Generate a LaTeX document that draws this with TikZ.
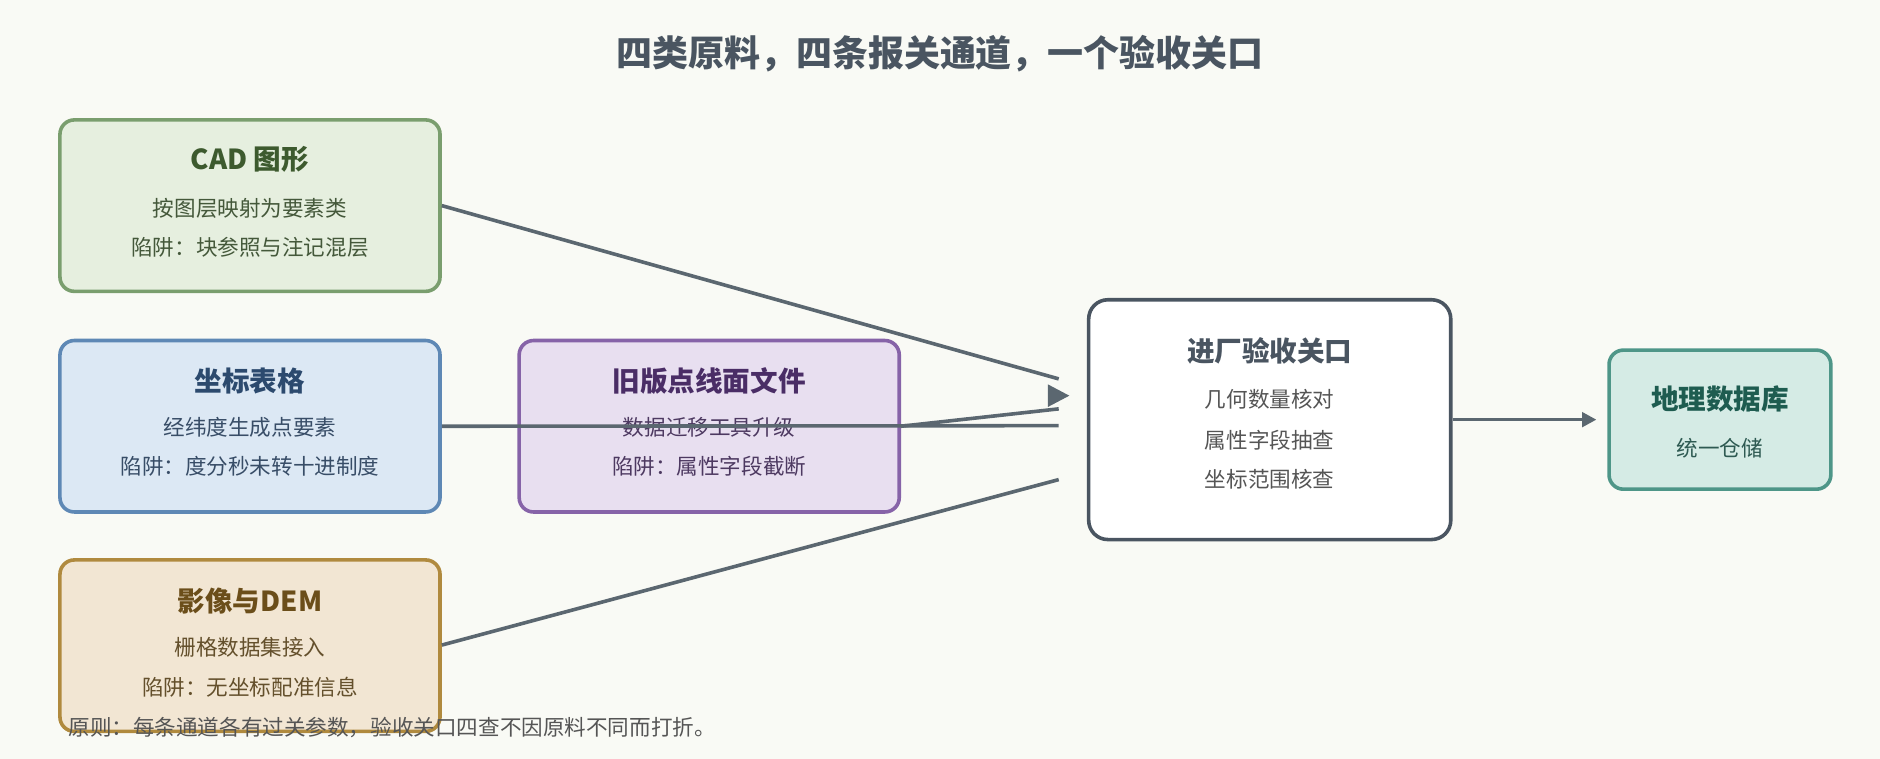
\documentclass[tikz,border=0pt]{standalone}
\usepackage{fontspec}
\setmainfont{Noto Sans CJK SC}
\usetikzlibrary{arrows.meta,positioning}
\definecolor{bgc}{HTML}{F9FAF5}
\definecolor{linec}{HTML}{5B6770}
\definecolor{cadfill}{HTML}{E6EFDF}\definecolor{cadline}{HTML}{7A9E6E}\definecolor{cadtext}{HTML}{3D5A2E}
\definecolor{xyfill}{HTML}{DCE8F4}\definecolor{xyline}{HTML}{5E88B5}\definecolor{xytext}{HTML}{2C4A6E}
\definecolor{demfill}{HTML}{F2E6D3}\definecolor{demline}{HTML}{B08A3E}\definecolor{demtext}{HTML}{6B4E1A}
\definecolor{oldfill}{HTML}{E8DFF0}\definecolor{oldline}{HTML}{8663A8}\definecolor{oldtext}{HTML}{4A2D66}
\definecolor{gateline}{HTML}{4A5561}
\definecolor{dbfill}{HTML}{D5EBE5}\definecolor{dbline}{HTML}{4E9688}\definecolor{dbtext}{HTML}{1E5C50}
\definecolor{subc}{HTML}{555555}

\begin{document}
\begin{tikzpicture}[x=0.5pt,y=-0.5pt,
		boxStyle/.style={draw, line width=1.5pt, rounded corners=6pt, inner sep=0pt},
		srcBox/.style={boxStyle, minimum width=158.5pt, minimum height=71.5pt},
		headStyle/.style={font=\fontsize{11.5}{13}\selectfont\bfseries},
		subStyle/.style={font=\fontsize{9}{11}\selectfont, text=subc},
		feedStyle/.style={draw=linec, line width=1.5pt},]
	
	\fill[bgc] (0,0) rectangle (1568,633);
	\useasboundingbox (0,0) rectangle (1568,633);
	
	\node[font=\fontsize{15}{18}\selectfont\bfseries, text=gateline] (title) at (784,45) {四类原料，四条报关通道，一个验收关口};
	
	% sources
	\node[srcBox, fill=cadfill, draw=cadline] (cad) at (208.5,171.5) {};
	\node[srcBox, fill=xyfill, draw=xyline] (xy) at (208.5,355.5) {};
	\node[srcBox, fill=demfill, draw=demline] (dem) at (208.5,538.5) {};
	\node[srcBox, fill=oldfill, draw=oldline] (old) at (591.5,355.5) {};
	
	\node[headStyle, text=cadtext] (cadT) at (208.5,133) {CAD 图形};
	\node[subStyle, text=cadtext!70!subc] (cadA) at (208.5,174) {按图层映射为要素类};
	\node[subStyle, text=cadtext!70!subc] (cadB) at (208.5,206) {陷阱：块参照与注记混层};
	
	\node[headStyle, text=xytext] (xyT) at (208.5,318) {坐标表格};
	\node[subStyle, text=xytext!70!subc] (xyA) at (208.5,356) {经纬度生成点要素};
	\node[subStyle, text=xytext!70!subc] (xyB) at (208.5,389) {陷阱：度分秒未转十进制度};
	
	\node[headStyle, text=demtext] (demT) at (208.5,501) {影像与DEM};
	\node[subStyle, text=demtext!70!subc] (demA) at (208.5,540) {栅格数据集接入};
	\node[subStyle, text=demtext!70!subc] (demB) at (208.5,573) {陷阱：无坐标配准信息};
	
	\node[headStyle, text=oldtext] (oldT) at (591.5,318) {旧版点线面文件};
	\node[subStyle, text=oldtext!70!subc] (oldA) at (591.5,356) {数据迁移工具升级};
	\node[subStyle, text=oldtext!70!subc] (oldB) at (591.5,389) {陷阱：属性字段截断};
	
	% gate and database
	\node[boxStyle, fill=white, draw=gateline, minimum width=151pt, minimum height=100pt, rounded corners=8pt] (gate) at (1059,350) {};
	\node[headStyle, text=gateline] (gateT) at (1059,293) {进厂验收关口};
	\node[subStyle] (gateA) at (1059,333) {几何数量核对};
	\node[subStyle] (gateB) at (1059,367) {属性字段抽查};
	\node[subStyle] (gateC) at (1059,400) {坐标范围核查};
	
	\node[boxStyle, fill=dbfill, draw=dbline, minimum width=92.5pt, minimum height=58pt] (db) at (1434.5,350) {};
	\node[headStyle, text=dbtext] (dbT) at (1434.5,333) {地理数据库};
	\node[subStyle, text=dbtext!70!subc] (dbA) at (1434.5,374) {统一仓储};
	
	\coordinate (inCad) at (883,316);
	\coordinate (inXy) at (883,355);
	\coordinate (inOld) at (883,341);
	\coordinate (inDem) at (883,400);
	\coordinate (tipBase) at (883,330);
	
	\draw[feedStyle] (cad.east) -- (inCad);
	\draw[feedStyle] (xy.east) -- (inXy);
	\draw[feedStyle] (old.east) -- (inOld);
	\draw[feedStyle] (dem.east|-0,538) -- (inDem);
	\draw[feedStyle, -{Triangle[length=9pt,width=9pt]}] (tipBase) -- ++(9,0);
	\draw[feedStyle, shorten >=4.5pt, -{Triangle[length=6pt,width=6pt]}] (gate.east) -- (db.west);
	
	\node[subStyle, anchor=west] (note) at (50,607) {原则：每条通道各有过关参数，验收关口四查不因原料不同而打折。};
\end{tikzpicture}
\end{document}
